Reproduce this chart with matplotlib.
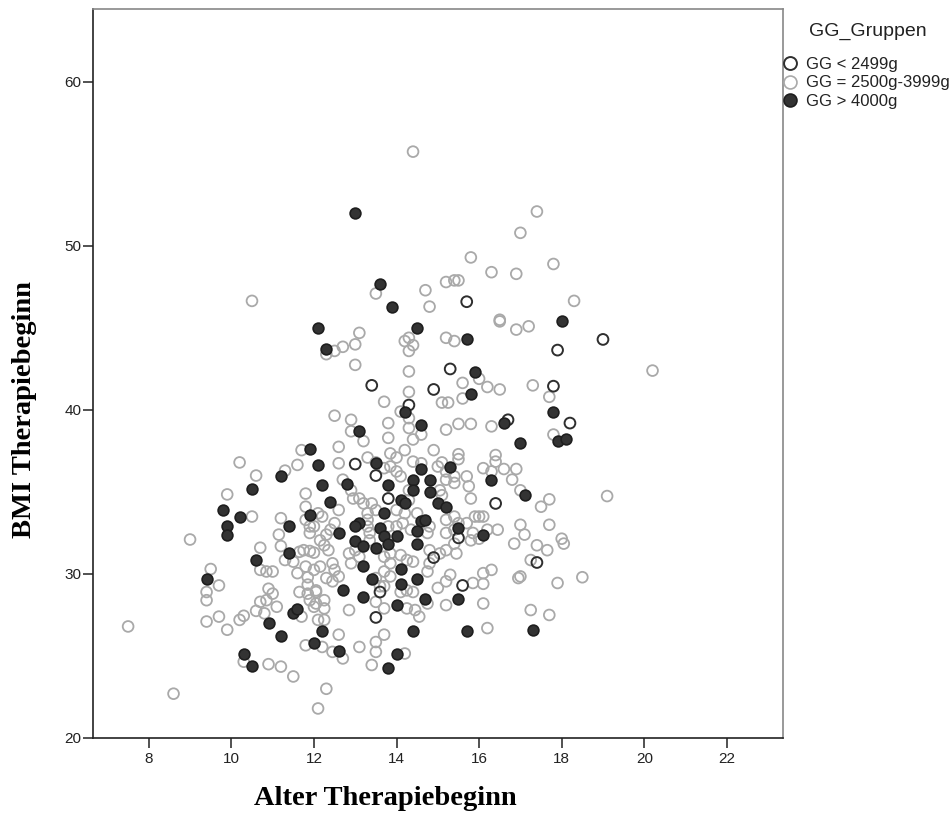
import matplotlib
matplotlib.use("Agg")
import matplotlib.pyplot as plt
from matplotlib.lines import Line2D
import numpy as np

# (Alter Therapiebeginn, BMI Therapiebeginn) per group
gg_low = [  # GG < 2499g
    (15.7, 46.6), (19.0, 44.3), (17.9, 43.65), (15.3, 42.5), (13.4, 41.5),
    (14.9, 41.25), (17.8, 41.45), (14.3, 40.3), (18.2, 39.2), (16.7, 39.4),
    (13.0, 36.7), (13.5, 36.0), (13.8, 34.6), (16.4, 34.3), (15.5, 32.2),
    (14.9, 31.0), (17.4, 30.7), (13.6, 28.9), (15.6, 29.3), (13.5, 27.35),
]

gg_mid = [  # GG = 2500g-3999g
    (14.4, 55.75), (17.4, 52.1), (17.0, 50.8), (15.8, 49.3), (16.3, 48.4),
    (16.9, 48.3), (17.8, 48.9), (15.2, 47.8), (15.4, 47.9), (15.5, 47.9),
    (14.7, 47.3), (13.5, 47.1), (14.8, 46.3), (18.3, 46.65), (10.5, 46.65),
    (16.5, 45.5), (16.5, 45.4), (16.9, 44.9), (17.2, 45.1), (13.1, 44.7),
    (13.0, 44.0), (12.7, 43.85), (12.5, 43.6), (12.3, 43.4), (14.2, 44.2),
    (14.3, 44.4), (14.4, 43.95), (14.3, 43.6), (15.2, 44.4), (15.4, 44.2),
    (13.0, 42.75), (14.3, 42.35), (17.3, 41.5), (17.7, 40.8), (15.6, 41.65),
    (16.0, 41.9), (16.2, 41.4), (16.5, 41.25), (15.6, 40.7), (15.1, 40.45),
    (15.25, 40.45), (14.3, 41.1), (13.7, 40.5), (14.1, 39.9), (12.5, 39.65),
    (12.9, 39.4), (12.9, 38.7), (13.2, 38.1), (13.8, 39.2), (13.8, 38.3),
    (14.3, 39.5), (14.3, 38.9), (14.6, 38.5), (14.4, 38.2), (15.2, 38.8),
    (15.5, 39.15), (15.8, 39.15), (16.3, 39.0), (17.8, 38.5), (14.9, 37.55),
    (14.2, 37.55), (13.3, 37.1), (12.6, 37.75), (12.6, 36.75), (11.7, 37.55),
    (13.85, 37.35), (14.0, 37.1), (15.5, 37.3), (15.5, 37.0), (16.4, 37.25),
    (16.4, 36.85), (16.9, 36.4), (16.1, 36.45), (16.3, 36.25), (16.6, 36.4),
    (16.8, 35.75), (17.0, 35.1), (17.7, 34.55), (17.5, 34.1), (19.1, 34.75),
    (20.2, 42.4), (13.5, 36.8), (13.7, 36.45), (13.85, 36.55), (14.0, 36.25),
    (14.1, 35.95), (14.4, 36.85), (14.6, 36.75), (15.0, 36.55), (15.1, 36.8),
    (15.2, 36.25), (15.2, 35.75), (15.4, 35.95), (15.4, 35.55), (15.7, 35.95),
    (15.75, 35.35), (15.8, 34.6), (15.9, 33.5), (16.0, 33.5), (16.1, 33.5),
    (14.3, 35.1), (14.3, 34.5), (15.05, 35.1), (15.1, 34.8), (14.0, 33.9),
    (14.2, 33.7), (14.5, 33.7), (15.2, 33.3), (15.4, 33.5), (15.5, 33.1),
    (11.8, 34.9), (12.1, 33.7), (11.9, 32.9), (12.7, 35.75), (12.9, 35.1),
    (12.95, 34.6), (13.1, 34.6), (13.2, 34.3), (13.4, 34.3), (13.3, 33.7),
    (13.5, 33.9), (12.6, 33.9), (12.2, 33.5), (12.5, 33.1), (13.3, 33.3),
    (13.8, 32.9), (14.0, 32.9),
    (10.2, 36.8), (10.6, 36.0), (11.3, 36.3), (11.6, 36.65), (9.9, 34.85),
    (11.8, 34.1), (10.5, 33.5), (11.2, 33.4), (9.0, 32.1), (9.5, 30.3),
    (9.4, 28.9), (9.4, 28.4), (9.7, 29.3), (9.4, 27.1), (9.7, 27.4),
    (9.9, 26.6), (7.5, 26.8), (8.6, 22.7), (10.7, 31.6), (10.7, 30.25),
    (10.85, 30.15), (11.0, 30.15), (10.9, 29.1), (11.0, 28.8), (10.7, 28.3),
    (10.85, 28.4), (11.1, 28.0), (10.6, 27.75), (10.8, 27.6), (10.2, 27.2),
    (10.3, 27.45), (10.3, 24.65), (10.9, 24.5), (11.2, 24.35), (11.5, 23.75),
    (11.7, 27.4), (11.15, 32.4), (11.2, 31.7), (11.3, 30.85), (11.5, 30.75),
    (11.6, 30.05), (11.75, 31.45), (11.9, 31.4), (12.0, 31.3), (11.8, 30.45),
    (11.85, 29.8), (11.85, 29.35), (11.9, 32.5), (11.9, 28.4), (11.8, 25.65),
    (12.1, 21.8), (12.05, 28.9), (12.05, 28.2), (12.1, 27.2),
    (11.8, 33.3), (12.0, 32.9), (12.3, 32.4), (12.4, 32.7), (12.15, 32.05),
    (12.25, 31.75), (12.35, 31.45), (11.65, 31.35), (12.0, 30.25), (12.15, 30.45),
    (12.45, 30.65), (12.5, 30.25), (12.3, 29.75), (12.45, 29.55), (12.6, 29.85),
    (11.65, 28.9), (11.85, 28.8), (12.05, 29.0), (12.25, 28.4), (12.25, 27.9),
    (12.0, 28.0), (12.25, 27.2), (12.2, 25.55), (12.6, 26.3), (12.45, 25.25),
    (12.7, 24.85), (12.3, 23.0), (12.85, 27.8), (13.1, 25.55), (13.4, 24.45),
    (13.5, 25.85), (13.5, 25.25), (13.7, 26.3), (14.2, 25.15), (12.85, 31.25),
    (13.0, 31.45), (13.1, 31.05), (12.9, 30.65), (13.3, 32.9), (13.35, 32.5),
    (13.35, 32.05), (13.7, 31.05), (13.85, 31.25), (13.85, 30.65), (13.7, 30.15),
    (13.85, 29.85), (13.7, 29.25), (13.5, 29.75), (13.6, 29.25), (13.5, 28.3),
    (13.7, 27.9), (14.1, 31.15), (14.25, 30.85), (14.4, 30.75), (14.1, 28.9),
    (14.25, 29.0), (14.4, 28.9), (14.25, 27.9), (14.45, 27.8), (14.55, 27.4),
    (14.15, 33.1), (14.35, 32.7), (14.75, 32.5), (14.8, 32.9), (14.8, 31.45),
    (15.05, 31.25), (14.8, 30.65), (14.75, 30.15), (14.75, 28.2), (15.2, 32.5),
    (15.4, 32.7), (15.2, 31.45), (15.4, 31.85), (15.45, 31.25), (15.0, 29.15),
    (15.2, 29.55), (15.3, 29.95), (15.2, 28.1), (15.7, 33.1), (15.85, 32.5),
    (15.8, 32.05), (16.0, 32.15), (16.2, 32.7), (15.85, 29.45), (16.1, 30.05),
    (16.3, 30.25), (16.1, 29.4), (16.1, 28.2), (16.2, 26.7), (16.45, 32.7),
    (16.85, 31.85), (17.0, 33.0), (17.1, 32.4), (17.0, 29.85), (16.95, 29.75),
    (17.25, 30.85), (17.4, 31.75), (17.65, 31.45), (17.7, 33.0), (18.0, 32.15),
    (18.05, 31.85), (17.25, 27.8), (17.7, 27.5), (17.9, 29.45), (18.5, 29.8),
]

gg_high = [  # GG > 4000g
    (13.0, 52.0), (13.6, 47.7), (13.9, 46.3), (12.1, 45.0), (14.5, 45.0),
    (18.0, 45.4), (12.3, 43.7), (15.7, 44.3), (15.9, 42.3), (15.8, 41.0),
    (14.2, 39.9), (14.6, 39.1), (13.1, 38.7), (16.6, 39.2), (17.8, 39.9),
    (17.0, 38.0), (17.9, 38.1), (18.1, 38.2), (11.9, 37.6), (12.1, 36.65),
    (11.2, 36.0), (10.5, 35.2), (13.5, 36.75), (14.6, 36.4), (15.3, 36.5),
    (12.2, 35.4), (12.8, 35.5), (13.8, 35.4), (14.4, 35.7), (14.4, 35.1),
    (14.8, 35.7), (14.8, 35.0), (16.3, 35.7), (17.1, 34.8), (12.4, 34.4),
    (14.1, 34.5), (14.2, 34.3), (15.0, 34.3), (15.2, 34.1), (9.8, 33.9),
    (10.2, 33.5), (11.9, 33.6), (13.7, 33.7), (14.6, 33.2), (14.7, 33.3),
    (13.1, 33.1), (13.0, 32.9), (13.6, 32.8), (12.6, 32.5), (15.5, 32.8),
    (9.9, 32.9), (9.9, 32.4), (11.4, 32.9), (13.0, 32.0), (13.2, 31.7),
    (13.5, 31.6), (13.7, 32.3), (13.8, 31.8), (14.0, 32.3), (14.5, 32.6),
    (14.5, 31.8), (16.1, 32.4), (10.6, 30.85), (11.4, 31.3), (13.2, 30.5),
    (14.1, 30.3), (9.4, 29.7), (13.4, 29.7), (14.1, 29.4), (14.5, 29.7),
    (12.7, 29.0), (13.2, 28.6), (14.7, 28.5), (15.5, 28.5), (14.0, 28.1),
    (11.5, 27.6), (11.6, 27.85), (10.9, 27.0), (11.2, 26.2), (12.2, 26.5),
    (14.4, 26.5), (15.7, 26.5), (17.3, 26.6), (12.0, 25.8), (12.6, 25.3),
    (14.0, 25.1), (10.3, 25.1), (10.5, 24.4), (13.8, 24.25),
]

labels = ["GG < 2499g", "GG = 2500g-3999g", "GG > 4000g"]
x_ticks = [8, 10, 12, 14, 16, 18, 20, 22]
y_ticks = [20, 30, 40, 50, 60]

fig = plt.figure(figsize=(9.52, 8.14), dpi=100)
ax = fig.add_axes([0.0977, 0.0934, 0.7248, 0.8956])

mid = np.array(gg_mid)
low = np.array(gg_low)
high = np.array(gg_high)

ax.scatter(mid[:, 0], mid[:, 1], s=60, facecolors="none", edgecolors="#a9a9a9", linewidths=1.3, zorder=2)
ax.scatter(low[:, 0], low[:, 1], s=60, facecolors="none", edgecolors="#2e2e2e", linewidths=1.4, zorder=3)
ax.scatter(high[:, 0], high[:, 1], s=60, facecolors="#333333", edgecolors="#1e1e1e", linewidths=1.2, zorder=4)

ax.set_xlim(6.65, 23.36)
ax.set_ylim(20, 64.45)
ax.set_xticks(x_ticks)
ax.set_yticks(y_ticks)

for side in ["left", "bottom"]:
    ax.spines[side].set_color("#222222")
    ax.spines[side].set_linewidth(1.2)
for side in ["top", "right"]:
    ax.spines[side].set_color("#888888")
    ax.spines[side].set_linewidth(1.2)

ax.tick_params(direction="out", length=7, width=1.1, color="#222222",
               labelsize=11, labelcolor="#222222")
ax.tick_params(axis="y", pad=1.5)
ax.tick_params(axis="x", pad=3)
for lab in ax.get_xticklabels() + ax.get_yticklabels():
    lab.set_family("Liberation Sans")

fig.text(385 / 952, 1 - 805 / 814, "Alter Therapiebeginn", family="Liberation Serif",
         weight="bold", fontsize=20.5, ha="center", va="baseline")
fig.text(0.026, 1 - 410 / 814, "BMI Therapiebeginn", family="Liberation Serif",
         weight="bold", fontsize=20.5, ha="center", va="center", rotation=90)

# legend: title as separate text, entries as a frameless legend
fig.text(867.5 / 952, 1 - 31 / 814, "GG_Gruppen", family="Liberation Sans",
         fontsize=14, color="#222222", ha="center", va="center")
handles = [
    Line2D([], [], ls="none", marker="o", ms=9.3, mfc="none", mec="#2e2e2e", mew=1.4),
    Line2D([], [], ls="none", marker="o", ms=9.3, mfc="none", mec="#a9a9a9", mew=1.2),
    Line2D([], [], ls="none", marker="o", ms=9.3, mfc="#333333", mec="#1e1e1e", mew=1.2),
]
leg = fig.legend(handles, labels, loc="upper left",
                 bbox_to_anchor=(783.0 / 952, 1 - 57 / 814), frameon=False,
                 borderpad=0, borderaxespad=0, handlelength=0.8, handletextpad=0.55,
                 labelspacing=0.2, prop={"family": "Liberation Sans", "size": 12})
for t in leg.get_texts():
    t.set_color("#222222")

fig.savefig("out.png", dpi=100)
